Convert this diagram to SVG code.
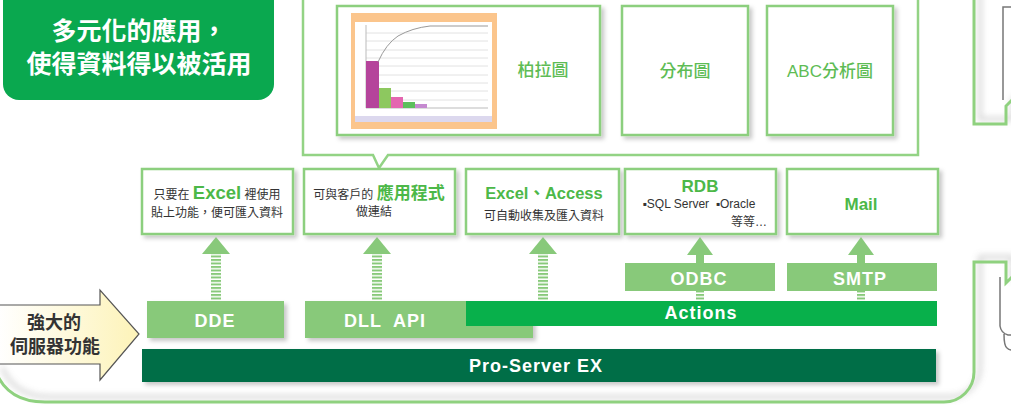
<svg xmlns="http://www.w3.org/2000/svg" width="1011" height="405" viewBox="0 0 1011 405">
<style>
text{font-family:"Liberation Sans","Noto Sans CJK TC",sans-serif}
.box{fill:#fff;stroke:#8ccf7e;stroke-width:2.5}
.lbl{fill:#5ebc55;font-size:17px;font-weight:500}
.dark{fill:#333;font-size:12px}
.gb{fill:#4cb848;font-weight:bold}
.bar{fill:#88c97a}
.wt{fill:#fff;font-weight:bold;font-size:18px;letter-spacing:1px}
.arr{fill:#88c97a}
.dev{fill:none;stroke:#777;stroke-width:1.5}
</style>
<defs>
<filter id="sh" x="-10%" y="-10%" width="130%" height="140%"><feDropShadow dx="3" dy="3" stdDeviation="2" flood-color="#000" flood-opacity="0.22"/></filter>
<filter id="fsh" x="-5%" y="-5%" width="110%" height="110%"><feDropShadow dx="6" dy="-5" stdDeviation="3" flood-color="#888" flood-opacity="0.45"/></filter>
<pattern id="stripes" patternUnits="userSpaceOnUse" width="20" height="3.5"><rect width="20" height="2" fill="#88c97a"/></pattern>
<linearGradient id="yel" x1="0" y1="0" x2="1" y2="0"><stop offset="0" stop-color="#ffffff"/><stop offset="1" stop-color="#fdf3b8"/></linearGradient>
</defs>

<g id="frame">
<path d="M974,-5 V124 H1006 V106 L1012,100 M1012,277 L1006,283 V262 H974 V372 A30,30 0 0 1 944,402 H45 Q8,402 -4,372" fill="none" stroke="#8fd17f" stroke-width="3" filter="url(#fsh)"/>
<path class="dev" d="M1012,7 H1003 V100"/>
<path class="dev" d="M1000,277 V326 Q1001,333 1008,335 H1012 M1004,334 Q1004,346 1007,348 Q1009,350 1012,350"/>
</g>

<g id="title">
<rect x="3" y="-20" width="271" height="120" rx="16" fill="#0aa84f"/>
<text x="139" y="40" text-anchor="middle" fill="#fff" font-weight="bold" font-size="25">多元化的應用，</text>
<text x="139" y="73" text-anchor="middle" fill="#fff" font-weight="bold" font-size="25">使得資料得以被活用</text>
</g>

<g id="charts">
<path d="M303,-5 V155 H373 L379,168 L388,155 H918 V-5" fill="#fff" stroke="#93d385" stroke-width="2.5"/>
<g id="pareto">
<rect class="box" x="337" y="6" width="263" height="129" filter="url(#sh)"/>
<rect x="351" y="13" width="146" height="116" fill="#fbc58c"/>
<rect x="355" y="22" width="137" height="100" fill="#fff"/>
<rect x="355" y="116" width="137" height="6" fill="#dcd8ee"/>
<g stroke="#e2e2e2" stroke-width="1">
<line x1="366" y1="33" x2="488" y2="33"/><line x1="366" y1="41" x2="488" y2="41"/><line x1="366" y1="50" x2="488" y2="50"/><line x1="366" y1="58" x2="488" y2="58"/><line x1="366" y1="66" x2="488" y2="66"/><line x1="366" y1="75" x2="488" y2="75"/><line x1="366" y1="83" x2="488" y2="83"/><line x1="366" y1="91" x2="488" y2="91"/><line x1="366" y1="100" x2="488" y2="100"/>
</g>
<path d="M366,25 V108 H488" fill="none" stroke="#bbb" stroke-width="1"/>
<rect x="366" y="61" width="13" height="47" fill="#b5449b"/>
<rect x="379" y="88" width="12" height="20" fill="#8dc85f"/>
<rect x="391" y="97" width="12" height="11" fill="#e466b0"/>
<rect x="403" y="102" width="12" height="6" fill="#5cbf5c"/>
<rect x="415" y="104" width="12" height="4" fill="#c58ad0"/>
<path d="M378,62 Q386,44 398,36 Q412,28 430,26 H488" fill="none" stroke="#999" stroke-width="1"/>
<text class="lbl" x="543" y="76" text-anchor="middle">柏拉圖</text>
</g>
<g id="dist">
<rect class="box" x="622" y="6" width="126" height="129" filter="url(#sh)"/>
<text class="lbl" x="685" y="77" text-anchor="middle">分布圖</text>
</g>
<g id="abc">
<rect class="box" x="767" y="6" width="126" height="129" filter="url(#sh)"/>
<text class="lbl" x="830" y="77" text-anchor="middle">ABC分析圖</text>
</g>
</g>

<g id="box-excel">
<rect class="box" x="142" y="169" width="151" height="65" filter="url(#sh)"/>
<text x="217" y="199" text-anchor="middle"><tspan class="dark">只要在 </tspan><tspan class="gb" font-size="18.5">Excel</tspan><tspan class="dark"> 裡使用</tspan></text>
<text class="dark" x="217" y="217" text-anchor="middle">貼上功能，便可匯入資料</text>
</g>
<g id="box-app">
<rect class="box" x="304" y="169" width="151" height="65" filter="url(#sh)"/>
<text x="379" y="199" text-anchor="middle"><tspan class="dark">可與客戶的 </tspan><tspan class="gb" font-size="17">應用程式</tspan></text>
<text class="dark" x="374" y="216" text-anchor="middle">做連結</text>
</g>
<g id="box-access">
<rect class="box" x="466" y="169" width="153" height="65" filter="url(#sh)"/>
<text class="gb" x="544" y="199" text-anchor="middle" font-size="16.5">Excel、Access</text>
<text class="dark" x="544" y="220" text-anchor="middle" font-size="11.5">可自動收集及匯入資料</text>
</g>
<g id="box-rdb">
<rect class="box" x="625" y="169" width="151" height="65" filter="url(#sh)"/>
<text class="gb" x="700" y="192" text-anchor="middle" font-size="17">RDB</text>
<text class="dark" x="699" y="208" text-anchor="middle" font-size="11.5" xml:space="preserve">▪SQL Server  ▪Oracle</text>
<text class="dark" x="767" y="226" text-anchor="end" font-size="11">等等…</text>
</g>
<g id="box-mail">
<rect class="box" x="787" y="169" width="151" height="65" filter="url(#sh)"/>
<text class="gb" x="861" y="210" text-anchor="middle" font-size="17">Mail</text>
</g>

<g id="connectors">
<polygon class="arr" points="202,254 216,237 230,254"/>
<rect x="211" y="254" width="10" height="46" fill="url(#stripes)"/>
<polygon class="arr" points="363,254 377,237 391,254"/>
<rect x="372" y="254" width="10" height="46" fill="url(#stripes)"/>
<polygon class="arr" points="529,254 543,237 557,254"/>
<rect x="538" y="254" width="10" height="47" fill="url(#stripes)"/>
<polygon class="arr" points="687,255 700,237 713,255"/>
<rect x="696" y="254" width="8" height="10" class="arr"/>
<rect x="696" y="291" width="8" height="10" fill="url(#stripes)"/>
<polygon class="arr" points="848,255 861,237 874,255"/>
<rect x="857" y="254" width="8" height="10" class="arr"/>
<rect x="857" y="291" width="8" height="10" fill="url(#stripes)"/>
</g>

<g id="prosrv">
<rect x="142" y="349" width="794" height="33" fill="#006e46" filter="url(#sh)"/>
<text class="wt" x="536" y="372" text-anchor="middle" letter-spacing="1.5">Pro-Server EX</text>
</g>
<g id="dde">
<rect class="bar" x="147" y="301" width="137" height="37" filter="url(#sh)"/>
<text class="wt" x="215" y="327" text-anchor="middle">DDE</text>
</g>
<g id="dll">
<rect class="bar" x="305" y="301" width="228" height="37" filter="url(#sh)"/>
<text class="wt" x="385" y="327" text-anchor="middle" xml:space="preserve">DLL  API</text>
</g>
<g id="actions">
<rect x="466" y="301" width="471" height="25" fill="#08b04b"/>
<text class="wt" x="701" y="319" text-anchor="middle" letter-spacing="0.5">Actions</text>
</g>
<g id="odbc">
<rect class="bar" x="625" y="263" width="150" height="28"/>
<text class="wt" x="699" y="285" text-anchor="middle" font-size="17">ODBC</text>
</g>
<g id="smtp">
<rect class="bar" x="787" y="263" width="150" height="28"/>
<text class="wt" x="860" y="285" text-anchor="middle" font-size="17">SMTP</text>
</g>

<g id="server-arrow">
<path d="M-2,305 H100 V290 L139,334 L100,380 V364 H-2 Z" fill="url(#yel)" stroke="#555" stroke-width="1.2"/>
<text x="54" y="329" text-anchor="middle" fill="#333" font-weight="bold" font-size="18">強大的</text>
<text x="55" y="353" text-anchor="middle" fill="#333" font-weight="bold" font-size="18">伺服器功能</text>
</g>
</svg>
